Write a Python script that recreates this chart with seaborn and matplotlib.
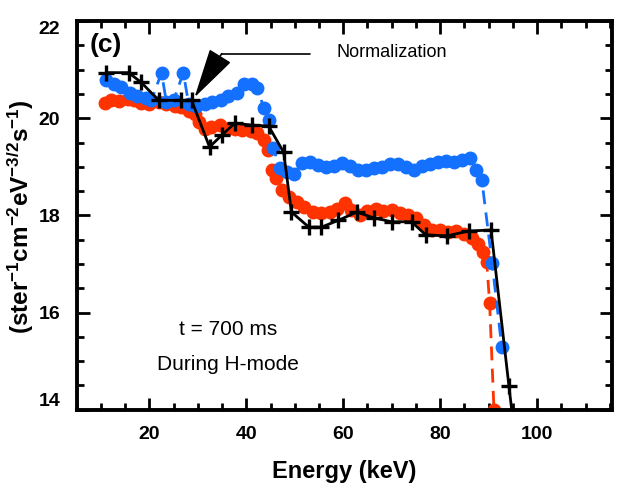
import matplotlib
matplotlib.use("Agg")
import matplotlib.pyplot as plt
from matplotlib.ticker import MultipleLocator
import seaborn as sns
import pandas as pd

# ---- data ----
black_x = [11.1, 15.7, 18.3, 21.9, 26.6, 28.7, 32.4, 34.9, 37.6, 41.1, 44.6, 47.7, 49.3,
           52.9, 55.5, 59.0, 62.8, 66.3, 70.0, 74.1, 77.0, 81.4, 85.9, 90.5, 94.2, 95.0]
black_y = [20.94, 20.94, 20.74, 20.37, 20.37, 20.37, 19.41, 19.65, 19.90, 19.86, 19.84, 19.30, 18.07,
           17.76, 17.76, 17.90, 18.07, 17.95, 17.87, 17.87, 17.60, 17.58, 17.68, 17.70, 14.48, 13.80]

red_x = [10.9, 12.1, 13.8, 15.5, 16.9, 18.3, 20.0, 21.9, 23.5, 25.2, 26.6, 28.1, 29.3, 30.3,
         31.4, 32.8, 34.5, 36.1, 37.6, 39.2, 40.9, 42.3, 43.6, 44.4, 45.2, 46.2, 47.3, 48.7,
         50.4, 52.0, 53.7, 55.5, 57.2, 58.8, 60.3, 61.7, 63.4, 65.0, 66.7, 68.3, 70.0, 71.7,
         73.3, 75.0, 76.6, 78.3, 79.9, 81.6, 83.2, 84.9, 86.5, 87.8, 88.8, 89.6, 90.2, 91.1, 91.2]
red_y = [20.31, 20.37, 20.35, 20.39, 20.37, 20.31, 20.29, 20.33, 20.29, 20.25, 20.23, 20.16, 20.08, 19.92,
         19.79, 19.82, 19.86, 19.77, 19.79, 19.75, 19.73, 19.69, 19.55, 19.34, 18.93, 18.77, 18.52, 18.38,
         18.28, 18.17, 18.07, 18.05, 18.07, 18.13, 18.26, 18.11, 18.01, 18.09, 18.13, 18.09, 18.11, 18.05,
         18.01, 17.95, 17.81, 17.70, 17.70, 17.66, 17.68, 17.62, 17.54, 17.42, 17.25, 17.05, 16.20, 14.00, 13.80]

blue_x = [11.1, 12.6, 14.2, 15.9, 17.5, 19.2, 20.4, 22.5, 23.5, 25.0, 27.0, 28.1, 29.7, 31.4,
          33.0, 34.7, 36.3, 38.0, 39.6, 41.1, 42.3, 43.6, 44.6, 45.6, 46.9, 48.3, 49.8, 51.4,
          53.1, 54.7, 56.4, 58.0, 59.7, 61.3, 63.0, 64.6, 66.3, 67.9, 69.6, 71.2, 72.9, 74.5,
          76.2, 77.9, 79.5, 81.2, 82.8, 84.5, 86.1, 87.4, 88.6, 90.7, 92.7]
blue_y = [20.78, 20.70, 20.64, 20.53, 20.45, 20.41, 20.37, 20.94, 20.33, 20.37, 20.94, 20.29, 20.25, 20.29,
          20.33, 20.37, 20.45, 20.53, 20.70, 20.70, 20.62, 20.21, 19.96, 19.38, 18.97, 18.89, 18.85, 19.08,
          19.10, 19.04, 18.99, 19.02, 19.08, 19.02, 18.93, 18.93, 18.97, 18.99, 19.06, 19.06, 18.99, 18.93,
          19.02, 19.06, 19.10, 19.12, 19.10, 19.14, 19.18, 18.93, 18.73, 17.03, 15.30]

x_ticks = [20, 40, 60, 80, 100]
y_ticks = [14, 16, 18, 20, 22]
x_label = "Energy (keV)"
y_label = r"(ster$^{-1}$cm$^{-2}$eV$^{-3/2}$s$^{-1}$)"

# ---- style ----
sns.set_theme(style="white")
FONT = ["Liberation Sans", "DejaVu Sans"]
plt.rcParams["font.family"] = FONT
plt.rcParams["text.color"] = "black"
plt.rcParams["axes.labelcolor"] = "black"
plt.rcParams["xtick.color"] = "black"
plt.rcParams["ytick.color"] = "black"
plt.rcParams["mathtext.fontset"] = "custom"
plt.rcParams["mathtext.rm"] = "Liberation Sans:bold"
plt.rcParams["mathtext.it"] = "Liberation Sans:bold"

RED = "#ff3300"
BLUE = "#1470ff"

fig = plt.figure(figsize=(6.19, 5.04), dpi=100)
ax = fig.add_axes([0.124, 0.187, 0.865, 0.771])

df_r = pd.DataFrame({"x": red_x, "y": red_y})
df_b = pd.DataFrame({"x": blue_x, "y": blue_y})
df_k = pd.DataFrame({"x": black_x, "y": black_y})

sns.lineplot(data=df_r, x="x", y="y", ax=ax, sort=False, estimator=None, color=RED,
             linestyle=(0, (5, 3)), linewidth=2, marker="o", markersize=9,
             markerfacecolor=RED, markeredgecolor=RED, markeredgewidth=1.0)
sns.lineplot(data=df_b, x="x", y="y", ax=ax, sort=False, estimator=None, color=BLUE,
             linestyle=(0, (5, 3)), linewidth=2, marker="o", markersize=9,
             markerfacecolor=BLUE, markeredgecolor=BLUE, markeredgewidth=1.0)
sns.lineplot(data=df_k, x="x", y="y", ax=ax, sort=False, estimator=None, color="black",
             linestyle="solid", linewidth=2, marker="+", markersize=12,
             markeredgecolor="black", markeredgewidth=2.4)

ax.set_xlim(5, 115.5)
ax.set_ylim(14, 22)
ax.set_xticks(x_ticks)
ax.set_yticks(y_ticks)
ax.xaxis.set_minor_locator(MultipleLocator(5))
ax.yaxis.set_minor_locator(MultipleLocator(0.5))
ax.tick_params(which="both", direction="in", top=True, right=True, bottom=True, left=True,
               color="black", width=2)
ax.tick_params(which="major", length=9, labelsize=14, pad=12, labelcolor="black")
ax.tick_params(which="minor", length=5)
ax.set_xticklabels([str(v) for v in x_ticks], fontweight="bold")
ax.set_yticklabels([str(v) for v in y_ticks], fontweight="bold")
ylabs = ax.get_yticklabels()
ylabs[-1].set_va("top")
ylabs[0].set_va("bottom")
for s in ax.spines.values():
    s.set_color("black")
    s.set_linewidth(2.8)

ax.set_xlabel(x_label, fontsize=17, fontweight="bold", labelpad=12, color="black")
ax.set_ylabel("")
fig.text(0.033, 0.571, y_label, rotation=90, fontsize=17.5, fontweight="bold",
         ha="center", va="center", color="black")

ax.text(7.6, 21.5, "(c)", fontsize=19, fontweight="bold", ha="left", va="center")
ax.text(58.6, 21.35, "Normalization", fontsize=13, ha="left", va="center")
ax.plot([34.9, 53.1], [21.33, 21.33], color="black", linewidth=1.2)
ax.annotate("", xy=(29.3, 20.43), xytext=(34.9, 21.33),
            arrowprops=dict(arrowstyle="-|>,head_length=1.6,head_width=0.4",
                            color="black", lw=1.2, mutation_scale=20, shrinkA=0, shrinkB=0))
ax.text(36.3, 15.65, "t = 700 ms", fontsize=15, ha="center", va="center")
ax.text(36.3, 14.93, "During H-mode", fontsize=15, ha="center", va="center")

fig.savefig("out.png", dpi=100, facecolor="white")
